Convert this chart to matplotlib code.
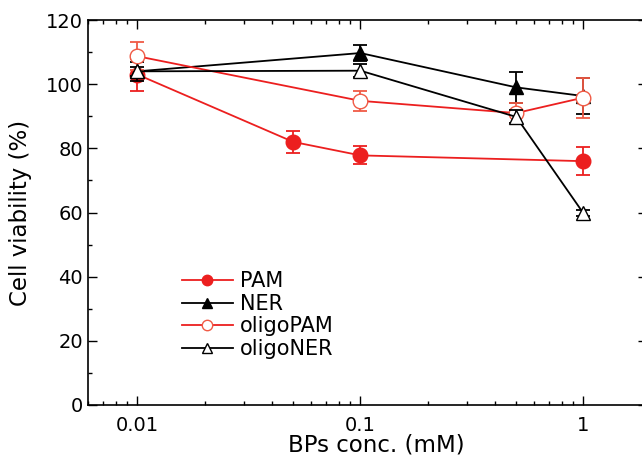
import numpy as np
import matplotlib
matplotlib.use('Agg')
import matplotlib.pyplot as plt
from matplotlib.lines import Line2D
from matplotlib.ticker import LogLocator, MultipleLocator, FixedLocator, FixedFormatter

# data
conc_pam = [0.01, 0.05, 0.1, 1]
pam = [103, 82, 77.8, 76]
pam_err = [5, 3.5, 2.8, 4.4]

conc = [0.01, 0.1, 0.5, 1]
ner = [104, 109.7, 99, 96.3]
ner_err = [3, 2.5, 4.8, 5.5]
oligopam = [108.7, 94.8, 91, 95.8]
oligopam_err = [4.3, 3.1, 3, 6.2]
oligoner = [104, 104.2, 89.8, 59.8]
oligoner_err = [1.5, 2, 2, 1]

red = '#ec1f1f'
red_light = '#f05a45'

fig = plt.figure(figsize=(6.42, 4.68), dpi=100)
ax = fig.add_axes([88/642, 1-405/468, 559/642, 385/468])

kw = dict(ms=10.5, lw=1.3, capsize=5, capthick=1.3)
ax.errorbar(conc_pam, pam, yerr=pam_err, color=red, ecolor=red, marker='o', mfc=red, mec=red,
            zorder=2, **kw)
ax.errorbar(conc, ner, yerr=ner_err, color='black', marker='^', mfc='black', mec='black',
            zorder=3, **kw)
ax.errorbar(conc, oligopam, yerr=oligopam_err, color=red, mec=red_light, ecolor=red_light,
            marker='o', mfc='white', zorder=4, **kw)
ax.errorbar(conc, oligoner, yerr=oligoner_err, color='black', marker='^', mfc='white', mec='black',
            zorder=5, **kw)

ax.set_xscale('log')
ax.set_xlim(0.006, 1.93)
ax.set_ylim(0, 120)
ax.yaxis.set_major_locator(MultipleLocator(20))
ax.yaxis.set_minor_locator(MultipleLocator(10))
ax.xaxis.set_major_locator(FixedLocator([0.01, 0.1, 1]))
ax.xaxis.set_major_formatter(FixedFormatter(['0.01', '0.1', '1']))
ax.xaxis.set_minor_locator(LogLocator(base=10, subs=np.arange(2, 10)))
ax.xaxis.set_minor_formatter(plt.NullFormatter())

ax.tick_params(which='both', direction='in', top=True, right=True, labelsize=14, width=1)
ax.tick_params(which='major', length=6.5)
ax.tick_params(which='minor', length=3)
ax.tick_params(axis='x', pad=8)
for s in ax.spines.values():
    s.set_linewidth(1.2)

ax.set_xlabel('BPs conc. (mM)', fontsize=16.5, labelpad=0)
ax.xaxis.set_label_coords(0.515, -0.075, transform=ax.transAxes)
ax.xaxis.label.set_va('top')
ax.set_ylabel('Cell viability (%)', fontsize=16.5, labelpad=10)

# legend handles without error bars
handles = [
    Line2D([], [], color=red, marker='o', mfc=red, mec=red, ms=7.5, lw=1.3),
    Line2D([], [], color='black', marker='^', mfc='black', mec='black', ms=7.5, lw=1.3),
    Line2D([], [], color=red, marker='o', mfc='white', mec=red_light, ms=7.5, lw=1.3),
    Line2D([], [], color='black', marker='^', mfc='white', mec='black', ms=7.5, lw=1.3),
]
labels = ['PAM', 'NER', 'oligoPAM', 'oligoNER']
ax.legend(handles, labels, loc='upper left', bbox_to_anchor=(0.168, 0.347),
          frameon=False, fontsize=15, borderpad=0, borderaxespad=0,
          handlelength=2.45, handletextpad=0.33, labelspacing=0.12)

fig.savefig('out.png', dpi=100)
